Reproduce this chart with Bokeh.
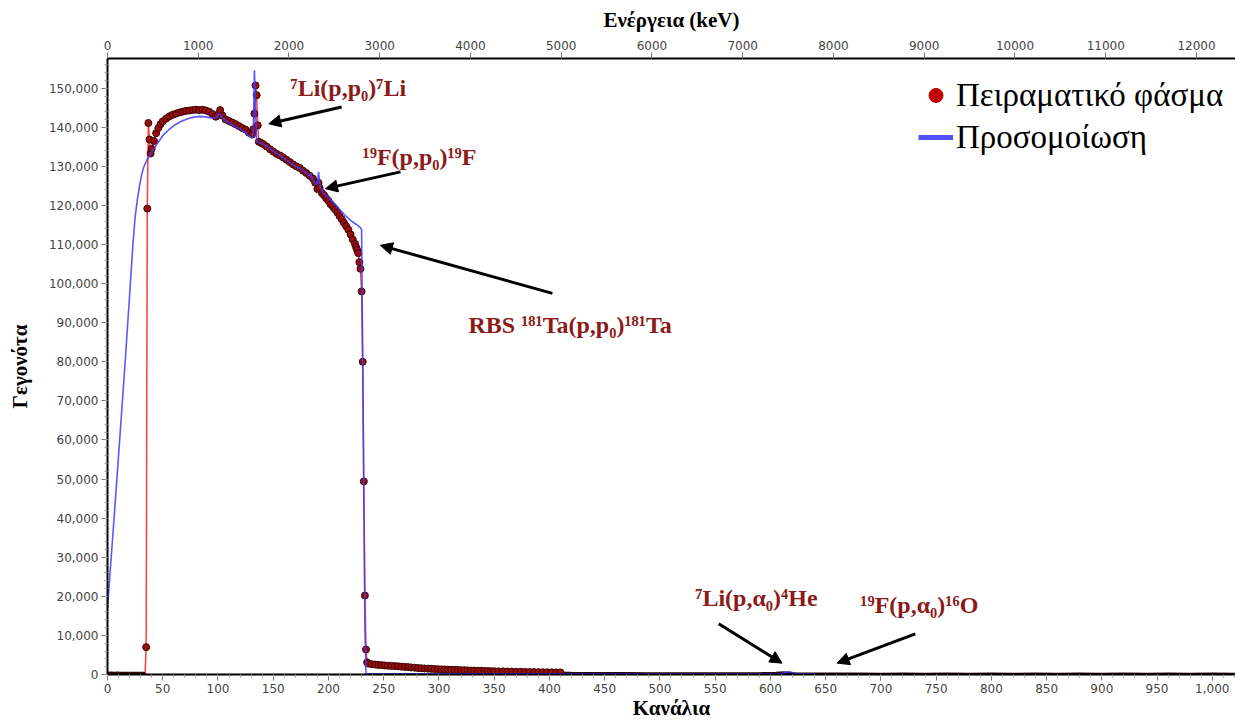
import math
from bokeh.plotting import figure
from bokeh.models import (Range1d, LinearAxis, FixedTicker, NumeralTickFormatter,
                          Label, Arrow, NormalHead, Legend, LegendItem, ColumnDataSource)
from bokeh.embed import file_html
from bokeh.resources import INLINE

# ---------------- data ----------------
exp_channel = [0, 3, 6, 9, 12, 15, 18, 21, 24, 27, 30, 33, 34, 35, 36, 37, 38, 39, 40,
               42, 44, 46, 48, 50, 53, 56, 59, 62, 65, 68, 71, 74, 77, 80, 83, 86, 89,
               92, 95, 98, 100, 102, 104, 107, 110, 113, 116, 119, 122, 125, 128, 131,
               132, 133, 134, 135, 136, 137, 139, 141, 144, 147, 150, 153, 156, 159,
               162, 165, 168, 171, 174, 177, 180, 183, 186, 188, 190, 191, 192, 194,
               196, 198, 200, 202, 204, 206, 208, 210, 212, 214, 216, 218, 220, 222,
               224, 225, 226, 227, 228, 229, 230, 231, 232, 233, 234, 235,
               236, 239, 242, 245, 248, 251, 254, 257, 260, 263, 266, 269, 272, 275,
               278, 281, 284, 287, 290, 293, 296, 299, 302, 305, 308, 311, 314, 317,
               320, 323, 326, 329, 332, 335, 338, 341, 344, 347, 350, 354, 358, 362,
               366, 370, 374, 378, 382, 386, 390, 394, 398, 402, 406, 410,
               412, 420, 435, 450, 470, 490, 510, 530, 550, 570, 590, 605, 612, 617,
               622, 630, 640, 660, 680, 700, 720, 740, 760, 780, 800, 820, 840, 860,
               880, 900, 920, 940, 960, 980, 1000, 1021]
exp_counts = [350, 380, 340, 360, 330, 350, 320, 340, 330, 310, 320, 300, 0, 7000,
              119200, 141100, 136900, 133300, 134500,
              136500, 138500, 139800, 140800, 141500, 142200, 142800, 143200, 143500,
              143800, 144000, 144200, 144300, 144400, 144500, 144400, 144500, 144300,
              144000, 143400, 142700, 143200, 144400, 143000, 142000, 141600, 141200,
              140800, 140300, 139800, 139400, 138600, 138200,
              139500, 143500, 150700, 148200, 140500, 136300, 136000, 135700, 135100,
              134400, 133800, 133200, 132800, 132300,
              131700, 131100, 130500, 130000, 129600, 128900, 128300, 127600, 126900,
              125800, 124200, 125800, 124500, 123200,
              122600, 121800, 121200, 120300, 119700, 119000, 118200, 117300, 116500,
              115600, 114700, 113800, 112600, 111300,
              110200, 109300, 108600, 107800, 105500, 103800, 98000, 80000, 49400,
              20200, 6400, 3100,
              2800, 2650, 2550, 2450, 2400, 2300, 2250, 2200, 2150, 2100, 2000, 1950,
              1900, 1800, 1750, 1650, 1600, 1550, 1500, 1450, 1400, 1350, 1300, 1300,
              1250, 1200, 1200, 1150, 1100, 1100, 1050, 1000, 1000, 950, 950, 900,
              900, 850, 850, 800, 800, 750, 750, 700, 700, 650, 650, 620, 600, 580,
              560, 550, 530, 520,
              320, 300, 280, 250, 230, 220, 200, 190, 180, 170, 200, 350, 450, 300,
              150, 120, 110, 100, 100, 90, 100, 90, 100, 90, 100, 90, 100, 90, 100,
              90, 100, 90, 100, 90, 100, 90]

sim_channel = [0, 8, 16, 20, 23, 25, 27, 29, 31, 33, 36, 39, 43, 47, 51, 56, 61, 66,
               72, 78, 84, 90, 96, 99, 101, 103, 105, 108, 112, 116, 120, 124, 128,
               131, 132, 133, 134, 135, 136, 140, 145, 150, 155, 160, 165, 170, 175,
               180, 183, 184, 185, 187, 189, 190, 191, 192, 193, 195, 198, 201, 205,
               210, 215, 220, 225, 229, 230, 231, 232, 233, 234, 240, 300, 400, 500,
               600, 610, 614, 617, 620, 624, 640]
sim_counts = [17000, 48000, 80000, 97000, 110000, 117000, 121500, 125000, 128000,
              130000, 131800, 133300, 135000, 136600, 138200, 139500, 140600, 141400,
              142100, 142600, 142800, 142600, 142300, 142600, 143600, 142800, 142200,
              141400, 140800, 140200, 139600, 138800, 137800,
              137200, 139000, 154600, 145000, 136500, 136200, 135800, 135000, 133900,
              133000, 132000, 131000, 130000, 129300,
              128300, 127400, 128200, 126800, 126200, 125400, 125500, 128600, 126000,
              124300, 123400, 122500, 121800, 120600,
              119000, 117500, 116200, 115200, 114300, 113800, 80000, 45000, 12000,
              200, 200, 200, 200, 200,
              200, 250, 500, 700, 500, 250, 200]

channel_ticks = list(range(0, 1001, 50))
channel_minor = list(range(0, 1021, 10))
energy_ticks = list(range(0, 12001, 1000))
count_ticks = list(range(0, 150001, 10000))
count_minor = list(range(0, 157001, 2000))

# annotations
notes = ["⁷Li(p,p₀)⁷Li", "¹⁹F(p,p₀)¹⁹F", "RBS ¹⁸¹Ta(p,p₀)¹⁸¹Ta",
         "⁷Li(p,α₀)⁴He", "¹⁹F(p,α₀)¹⁶O"]
note_x = [165.6, 230.8, 326.7, 532.0, 681.4]
note_y = [150000, 132300, 89300, 19500, 17900]

arrow_x0 = [211.9, 265.2, 402.7, 553.2, 731.2]
arrow_y0 = [145200, 128600, 97500, 12970, 10400]
arrow_x1 = [146.0, 197.3, 247.0, 610.6, 660.4]
arrow_y1 = [140900, 124300, 109800, 2900, 2900]

LOW = 500  # below this level the measured points merge into a dark line on the axis

# ---------------- figure ----------------
p = figure(width=1235, height=723, output_backend="svg", toolbar_location=None,
           x_range=Range1d(0, 1021), y_range=Range1d(0, 157600),
           min_border_left=107, min_border_right=0, min_border_top=58,
           min_border_bottom=49, background_fill_color="white",
           border_fill_color="white", outline_line_color=None)
p.grid.visible = False
p.extra_x_ranges = {"energy": Range1d(0, 12430)}

tick_font = "DejaVu Sans"
tick_color = "#444444"


def style_axis(ax):
    ax.axis_line_color = "black"
    ax.axis_line_width = 2
    ax.major_tick_line_color = "#777777"
    ax.minor_tick_line_color = "#999999"
    ax.major_tick_out = 6
    ax.major_tick_in = 0
    ax.minor_tick_out = 3
    ax.minor_tick_in = 0
    ax.major_label_text_font = tick_font
    ax.major_label_text_font_size = "12px"
    ax.major_label_text_color = tick_color
    ax.major_label_standoff = 3
    ax.axis_label_text_font = "Liberation Serif"
    ax.axis_label_text_font_style = "bold"
    ax.axis_label_text_font_size = "21px"
    ax.axis_label_text_color = "black"


xb = p.xaxis[0]
style_axis(xb)
xb.ticker = FixedTicker(ticks=channel_ticks, minor_ticks=channel_minor)
xb.formatter = NumeralTickFormatter(format="0,0")
xb.axis_label = "Κανάλια"
xb.axis_label_standoff = 0

yl = p.yaxis[0]
style_axis(yl)
yl.ticker = FixedTicker(ticks=count_ticks, minor_ticks=count_minor)
yl.formatter = NumeralTickFormatter(format="0,0")
yl.axis_label = "Γεγονότα"
yl.axis_label_standoff = 14

xt = LinearAxis(x_range_name="energy")
style_axis(xt)
xt.ticker = FixedTicker(ticks=energy_ticks, minor_ticks=[])
xt.formatter = NumeralTickFormatter(format="0")
xt.axis_label = "Ενέργεια (keV)"
xt.axis_label_standoff = 6
p.add_layout(xt, "above")

# ---------------- data glyphs ----------------
dot_x = [c for c, v in zip(exp_channel, exp_counts) if v >= LOW]
dot_y = [v for v in exp_counts if v >= LOW]
low_y = [v if v < LOW else math.nan for v in exp_counts]

exp_src = ColumnDataSource(dict(x=exp_channel, y=exp_counts))
low_src = ColumnDataSource(dict(x=exp_channel, y=low_y))
dot_src = ColumnDataSource(dict(x=dot_x, y=dot_y))
sim_src = ColumnDataSource(dict(x=sim_channel, y=sim_counts))

p.line("x", "y", source=exp_src, line_color="#ff3b3b", line_width=1.5)
p.line("x", "y", source=low_src, line_color="#2a0505", line_width=3)
p.scatter("x", "y", source=dot_src, size=7, fill_color="#9a0d0d",
          line_color="#3a0505", line_width=1)
p.line("x", "y", source=sim_src, line_color="#3c3cff", line_width=1.6, line_alpha=0.85)

# legend glyph renderers (their single point lies outside the visible ranges)
leg_dot = p.scatter(x=[-5000], y=[-5e6], size=18, fill_color="#c00000",
                    line_color="#c00000")
leg_line = p.line(x=[-5000, -4000], y=[-5e6, -5e6], line_color="#5050ff", line_width=5)
legend = Legend(items=[LegendItem(label="Πειραματικό φάσμα", renderers=[leg_dot]),
                       LegendItem(label="Προσομοίωση", renderers=[leg_line])],
                location=(811, 516), border_line_color=None,
                background_fill_alpha=0, label_text_font="Liberation Serif",
                label_text_font_size="33px", label_text_color="black",
                glyph_width=35, glyph_height=42, label_standoff=3, spacing=0,
                padding=0, margin=0)
p.add_layout(legend)

# annotations
for t, x, y in zip(notes, note_x, note_y):
    p.add_layout(Label(x=x, y=y, text=t, text_font="Liberation Serif",
                       text_font_style="bold", text_font_size="24px",
                       text_color="#8b1a1a", text_baseline="middle",
                       text_align="left"))

for x0, y0, x1, y1 in zip(arrow_x0, arrow_y0, arrow_x1, arrow_y1):
    p.add_layout(Arrow(end=NormalHead(size=12, fill_color="black", line_color="black"),
                       x_start=x0, y_start=y0, x_end=x1, y_end=y1,
                       line_color="black", line_width=3))

open("out.html", "w").write(file_html(p, INLINE))
